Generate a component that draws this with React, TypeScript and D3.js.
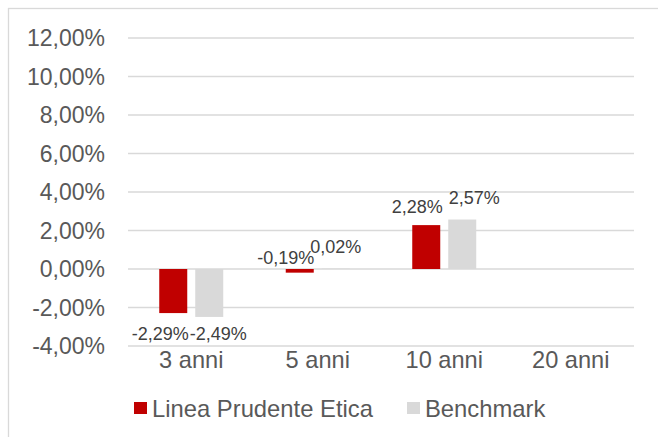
import React, { useRef, useEffect } from "react";
import * as d3 from "d3";

// Data
const categories = ["3 anni", "5 anni", "10 anni", "20 anni"];
const seriesNames = ["Linea Prudente Etica", "Benchmark"];
const lineaValues: (number | null)[] = [-2.29, -0.19, 2.28, null];
const benchmarkValues: (number | null)[] = [-2.49, 0.02, 2.57, null];
const yTicks = [-4, -2, 0, 2, 4, 6, 8, 10, 12];

const colors = ["#C00000", "#D9D9D9"];
// Excel-style label nudges (to avoid overlapping labels), per series per category
const labelNudge = [
  [{ dx: -13, dy: 0 }, { dx: -14, dy: -36 }, { dx: -9, dy: 0 }, { dx: 0, dy: 0 }],
  [{ dx: 9, dy: -4 }, { dx: 0, dy: -4 }, { dx: 12, dy: -4 }, { dx: 0, dy: 0 }],
];

export default function App() {
  const svgRef = useRef<SVGSVGElement>(null);

  useEffect(() => {
    const svg = d3.select(svgRef.current);
    svg.selectAll("*").remove();

    const width = 658;
    const height = 437;
    const textColor = "#595959";
    const font = "'Liberation Sans', Arial, sans-serif";

    const it = d3.formatLocale({
      decimal: ",",
      thousands: ".",
      grouping: [3],
      currency: ["", "€"],
      minus: "-",
    });
    const fmt = it.format(".2f");
    const pct = (v: number) => fmt(v) + "%";

    // outer frame
    svg
      .append("rect")
      .attr("x", 8.5)
      .attr("y", 8.5)
      .attr("width", width)
      .attr("height", height)
      .attr("fill", "#fff")
      .attr("stroke", "#D9D9D9")
      .attr("stroke-width", 1.3);

    const x = d3.scaleBand().domain(categories).range([128, 634]).padding(0);
    const y = d3.scaleLinear().domain([-4, 12]).range([346, 38]);

    const bw = x.bandwidth();
    const barW = (bw * 28) / 126.5;
    const gap = (bw * 8) / 126.5;

    // gridlines
    svg
      .append("g")
      .selectAll("line")
      .data(yTicks)
      .join("line")
      .attr("x1", 128)
      .attr("x2", 634)
      .attr("y1", (d) => y(d))
      .attr("y2", (d) => y(d))
      .attr("stroke", "#D9D9D9")
      .attr("stroke-width", 1.3);

    // y tick labels
    svg
      .append("g")
      .selectAll("text")
      .data(yTicks)
      .join("text")
      .attr("x", 105)
      .attr("y", (d) => y(d) + 8)
      .attr("text-anchor", "end")
      .attr("fill", textColor)
      .style("font-family", font)
      .style("font-size", "23px")
      .text((d) => pct(d));

    // x labels
    svg
      .append("g")
      .selectAll("text")
      .data(categories)
      .join("text")
      .attr("x", (d) => (x(d) || 0) + bw / 2)
      .attr("y", 368)
      .attr("text-anchor", "middle")
      .attr("fill", textColor)
      .style("font-family", font)
      .style("font-size", "23.6px")
      .text((d) => d);

    const series = [lineaValues, benchmarkValues];
    series.forEach((vals, si) => {
      const rows = categories
        .map((c, ci) => ({ c, ci, v: vals[ci] }))
        .filter((d) => d.v !== null) as { c: string; ci: number; v: number }[];
      const bx = (c: string) => {
        const center = (x(c) || 0) + bw / 2;
        return si === 0 ? center - gap / 2 - barW : center + gap / 2;
      };

      svg
        .append("g")
        .selectAll("rect")
        .data(rows)
        .join("rect")
        .attr("x", (d) => bx(d.c))
        .attr("y", (d) => y(Math.max(0, d.v)))
        .attr("width", barW)
        .attr("height", (d) => Math.abs(y(d.v) - y(0)))
        .attr("fill", colors[si]);

      svg
        .append("g")
        .selectAll("text")
        .data(rows)
        .join("text")
        .attr("x", (d) => bx(d.c) + barW / 2 + labelNudge[si][d.ci].dx)
        .attr("y", (d) =>
          (d.v >= 0 ? y(d.v) - 12 : y(d.v) + 27) + labelNudge[si][d.ci].dy
        )
        .attr("text-anchor", "middle")
        .attr("fill", "#404040")
        .style("font-family", font)
        .style("font-size", "18px")
        .text((d) => pct(d.v));
    });

    // legend
    const legendX = [134, 407];
    const legend = svg
      .append("g")
      .selectAll("g")
      .data(seriesNames)
      .join("g")
      .attr("transform", (_d, i) => `translate(${legendX[i]},402)`);
    legend
      .append("rect")
      .attr("width", 13)
      .attr("height", 12)
      .attr("fill", (_d, i) => colors[i]);
    legend
      .append("text")
      .attr("x", 18)
      .attr("y", 15)
      .attr("fill", textColor)
      .style("font-family", font)
      .style("font-size", "23.8px")
      .text((d) => d);
  }, []);

  return (
    <svg
      ref={svgRef}
      width={658}
      height={437}
      style={{ position: "absolute", left: 0, top: 0, background: "#fff" }}
    />
  );
}
